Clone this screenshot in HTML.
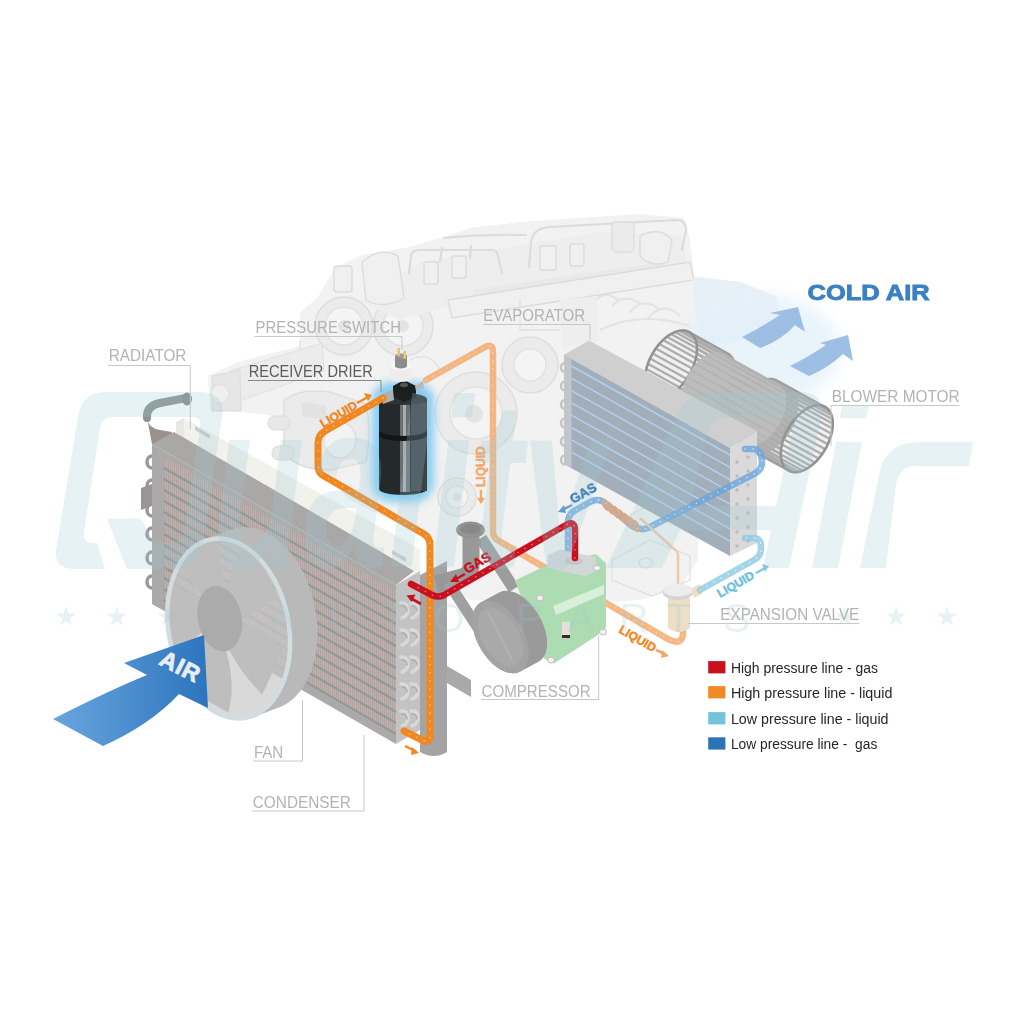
<!DOCTYPE html>
<html><head><meta charset="utf-8">
<style>
html,body{margin:0;padding:0;background:#fff;width:1024px;height:1024px;overflow:hidden}
svg{display:block}
text{font-family:"Liberation Sans",sans-serif}
</style></head>
<body>
<svg width="1024" height="1024" viewBox="0 0 1024 1024">
<defs>
<filter id="blur2" x="-20%" y="-20%" width="140%" height="140%"><feGaussianBlur stdDeviation="2"/></filter>
<filter id="blur4" x="-30%" y="-30%" width="160%" height="160%"><feGaussianBlur stdDeviation="4"/></filter>
<filter id="blur8" x="-50%" y="-50%" width="200%" height="200%"><feGaussianBlur stdDeviation="8"/></filter>
<linearGradient id="airg" x1="0" y1="0" x2="1" y2="0">
<stop offset="0" stop-color="#6aa6de"/><stop offset="1" stop-color="#2c74bd"/></linearGradient>
<mask id="qgap"><rect width="1024" height="1024" fill="#fff"/><path d="M96,540 L118,540 L128,572 L106,572 Z" fill="#000"/></mask>
<clipPath id="wmclip"><rect x="0" y="380" width="1024" height="190"/></clipPath>
<pattern id="fins" width="2" height="3" patternUnits="userSpaceOnUse">
<rect width="2" height="3" fill="#cbada5"/><rect width="1" height="3" fill="#b1a3a0"/></pattern>
</defs>
<g id="engine">
<path d="M300,313 L318,297 L335,268 L362,255 L405,248 L440,238 L470,228 L520,222 L593,217 L640,214 L684,218 L690,240 L694,276 L740,282 L776,296 L780,322 L740,340 L700,358 L700,470 L698,560 L680,588 L640,600 L570,604 L470,600 L440,580 L430,540 L350,500 L320,470 L300,440 L270,415 L240,412 L210,410 L208,376 L238,362 L300,346 Z" fill="#f2f2f2"/>
<g fill="#ebebeb" stroke="#dfdfdf" stroke-width="1.5">
<circle cx="344" cy="326" r="29"/>
<circle cx="403" cy="326" r="30"/>
<circle cx="476" cy="413" r="41"/>
<circle cx="457" cy="497" r="19"/>
<circle cx="530" cy="365" r="28"/>
</g>
<g fill="#f4f4f4" stroke="#e2e2e2" stroke-width="1.5">
<circle cx="344" cy="326" r="19"/>
<circle cx="403" cy="326" r="20"/>
<circle cx="476" cy="413" r="26"/>
<circle cx="457" cy="497" r="11"/>
<circle cx="530" cy="365" r="16"/>
</g>
<g fill="#e4e4e4">
<circle cx="344" cy="326" r="6"/><circle cx="403" cy="326" r="6"/><circle cx="474" cy="414" r="9"/><circle cx="457" cy="497" r="4"/>
</g>
<path d="M360,300 L420,262 L600,232 L680,236 L690,270 L600,280 L470,300 L400,320 Z" fill="#eeeeee"/>
<path d="M473,290 L664,262 L664,274 L473,303 Z" fill="#e9e9e9"/>
<g fill="none" stroke="#dcdcdc" stroke-width="2.2" stroke-linecap="round">
<path d="M409,273 L411,256 Q412,250 420,250 L492,250 Q497,250 498,256 L502,273"/>
<path d="M529,267 L531,242 Q533,228 550,227 L676,220 Q686,220 686,230 L682,250"/>
<path d="M444,238 Q480,234 526,235"/>
<path d="M440,262 L442,248"/><path d="M470,258 L471,246"/>
</g>
<g fill="none" stroke="#e3e3e3" stroke-width="2">
<path d="M596,300 Q606,290 618,300"/><path d="M612,306 Q624,292 640,304"/><path d="M630,312 Q644,296 660,310"/><path d="M648,318 Q664,300 680,316"/>
<path d="M600,330 Q640,310 690,326"/>
</g>
<rect x="612" y="222" width="22" height="30" rx="4" fill="#ebebeb" stroke="#dedede" stroke-width="1.5"/>
<g fill="#f0f0f0" stroke="#dcdcdc" stroke-width="1.4">
<rect x="334" y="266" width="18" height="26" rx="3"/>
<path d="M362,262 Q380,246 398,256 L404,298 Q384,310 366,300 Z"/>
<rect x="424" y="262" width="14" height="22" rx="2"/>
<rect x="452" y="256" width="14" height="22" rx="2"/>
<rect x="540" y="246" width="16" height="24" rx="2"/>
<rect x="570" y="244" width="14" height="22" rx="2"/>
<path d="M448,300 L690,262 L694,280 L452,318 Z"/>
<path d="M640,236 Q660,226 672,240 L668,262 Q650,268 640,256 Z"/>
</g>
<g fill="none" stroke="#e0e0e0" stroke-width="1.3">
<path d="M300,340 L300,360"/><path d="M410,360 Q430,350 440,370"/><path d="M520,300 L520,330 L560,330"/>
<path d="M600,380 Q640,372 670,386"/><path d="M612,560 L650,540 L690,556 L690,580 L652,596 L612,580 Z"/><ellipse cx="646" cy="563" rx="7" ry="5"/><path d="M620,520 L660,500"/><path d="M580,420 L640,410"/><path d="M600,460 L660,446"/>
</g>
<path d="M560,300 L596,296 L600,340 L562,348 Z" fill="#eeeeee"/>
</g>
<g fill="#e5f0f7" opacity="0.9">
<path d="M692,278 L740,282 L778,298 L780,322 L742,340 L700,346 Z"/>
</g>
<g id="mount">
<path d="M230,371 L322,343 L324,371 L231,404 Z" fill="#ececec" stroke="#e0e0e0" stroke-width="1"/>
<path d="M212,376 L240,370 L241,411 L212,411 Z" fill="#e6e6e6" stroke="#dcdcdc" stroke-width="1"/>
<ellipse cx="220" cy="394" rx="9" ry="9" fill="#efefef" stroke="#e0e0e0"/>
</g>
<path d="M284,400 Q300,388 330,392 L366,404 Q372,430 366,462 L330,470 Q296,470 284,452 Z" fill="#ebebeb" stroke="#dedede" stroke-width="1.5"/>
<path d="M302,402 L326,406 L326,420 L302,416 Z" fill="#e2e2e2"/>
<ellipse cx="340" cy="440" rx="16" ry="18" fill="#f3f3f3" stroke="#e0e0e0" stroke-width="1.5"/>
<g fill="#e8e8e8" stroke="#dcdcdc" stroke-width="1.2"><rect x="268" y="416" width="22" height="14" rx="7"/><rect x="272" y="446" width="22" height="14" rx="7"/></g>

<ellipse cx="760" cy="350" rx="80" ry="55" fill="#e4f1fa" opacity="0.8" filter="url(#blur8)"/>
<g id="radiator">
<path d="M147,418 Q146,406 160,403 L186,398" fill="none" stroke="#8c9293" stroke-width="8" stroke-linecap="round"/>
<ellipse cx="187" cy="399" rx="5" ry="6.5" fill="#858b8c"/>
<path d="M147,418 Q148,428 160,430 L172,432 L172,444 L152,444 Z" fill="#9c908d"/>
<path d="M176,422 L184,418 L420,549 L420,575 L412,579 L176,442 Z" fill="#f2f2ec"/>
<path d="M176,422 L184,418 L184,438 L176,442 Z" fill="#e9e9e2"/>
<path d="M195,426 L210,435 L210,439 L195,430 Z" fill="#c9cccc"/>
<path d="M392,550 L406,558 L406,562 L392,554 Z" fill="#c9cccc"/>
<g fill="none" stroke="#9b9898" stroke-width="3.5">
<path d="M152,456 a5,6 0 1,0 0,12"/><path d="M152,480 a5,6 0 1,0 0,12"/><path d="M152,504 a5,6 0 1,0 0,12"/>
<path d="M152,528 a5,6 0 1,0 0,12"/><path d="M152,552 a5,6 0 1,0 0,12"/><path d="M152,576 a5,6 0 1,0 0,12"/>
</g>
<path d="M141,488 L152,484 L152,506 L141,510 Z" fill="#9a9494"/>
<path d="M420,575 L447,561 L447,752 Q434,760 420,752 Z" fill="#a4a4a4"/>
<path d="M447,666 L471,680 L471,697 L447,683 Z" fill="#a9a9a9"/>
</g>
<g id="condenser">
<path d="M152,444 L174,432 L414,571 L396,585 Z" fill="#aaa7a7"/>
<path d="M152,444 L396,585 L396,744 L152,604 Z" fill="#aba9a9"/>
<path d="M164,457 L396,591 L396,736 L164,602 Z" fill="url(#fins)"/>
<g stroke="#909a9b" stroke-width="2.3"><line x1="164" y1="468" x2="396" y2="602"/>
<line x1="164" y1="479" x2="396" y2="613"/>
<line x1="164" y1="490" x2="396" y2="624"/>
<line x1="164" y1="501" x2="396" y2="635"/>
<line x1="164" y1="512" x2="396" y2="646"/>
<line x1="164" y1="523" x2="396" y2="657"/>
<line x1="164" y1="534" x2="396" y2="668"/>
<line x1="164" y1="545" x2="396" y2="679"/>
<line x1="164" y1="556" x2="396" y2="690"/>
<line x1="164" y1="567" x2="396" y2="701"/>
<line x1="164" y1="578" x2="396" y2="712"/>
<line x1="164" y1="589" x2="396" y2="723"/>
<line x1="164" y1="600" x2="396" y2="734"/></g>
<path d="M396,585 L420,571 L420,730 L396,744 Z" fill="#c3c3c3"/>
<g fill="none" stroke-width="3.5" stroke-linecap="round">
<path d="M401,603 q7,-1 7,7 q0,6 -6,8" stroke="#d9d9d9"/><path d="M402,606 q5,0 5,5" stroke="#aeaeae" stroke-width="1.5"/>
<path d="M411,603 q7,-1 7,7 q0,6 -6,8" stroke="#d9d9d9"/><path d="M412,606 q5,0 5,5" stroke="#aeaeae" stroke-width="1.5"/>
<path d="M401,630 q7,-1 7,7 q0,6 -6,8" stroke="#d9d9d9"/><path d="M402,633 q5,0 5,5" stroke="#aeaeae" stroke-width="1.5"/>
<path d="M411,630 q7,-1 7,7 q0,6 -6,8" stroke="#d9d9d9"/><path d="M412,633 q5,0 5,5" stroke="#aeaeae" stroke-width="1.5"/>
<path d="M401,657 q7,-1 7,7 q0,6 -6,8" stroke="#d9d9d9"/><path d="M402,660 q5,0 5,5" stroke="#aeaeae" stroke-width="1.5"/>
<path d="M411,657 q7,-1 7,7 q0,6 -6,8" stroke="#d9d9d9"/><path d="M412,660 q5,0 5,5" stroke="#aeaeae" stroke-width="1.5"/>
<path d="M401,684 q7,-1 7,7 q0,6 -6,8" stroke="#d9d9d9"/><path d="M402,687 q5,0 5,5" stroke="#aeaeae" stroke-width="1.5"/>
<path d="M411,684 q7,-1 7,7 q0,6 -6,8" stroke="#d9d9d9"/><path d="M412,687 q5,0 5,5" stroke="#aeaeae" stroke-width="1.5"/>
<path d="M401,711 q7,-1 7,7 q0,6 -6,8" stroke="#d9d9d9"/><path d="M402,714 q5,0 5,5" stroke="#aeaeae" stroke-width="1.5"/>
<path d="M411,711 q7,-1 7,7 q0,6 -6,8" stroke="#d9d9d9"/><path d="M412,714 q5,0 5,5" stroke="#aeaeae" stroke-width="1.5"/>
</g>
</g>
<mask id="fanmask"><rect width="1024" height="1024" fill="#fff"/><path d="M289.2,642.7 L288.9,650.2 L288.3,657.6 L287.1,664.8 L285.5,671.7 L283.5,678.3 L281.1,684.5 L278.2,690.2 L275.0,695.5 L271.5,700.3 L267.6,704.6 L263.4,708.2 L258.9,711.3 L254.3,713.7 L249.4,715.5 L244.4,716.6 L239.2,717.0 L234.0,716.8 L228.7,715.9 L223.4,714.3 L218.2,712.1 L213.0,709.3 L208.0,705.8 L203.1,701.7 L198.5,697.1 L194.0,692.0 L189.8,686.4 L185.9,680.3 L182.4,673.8 L179.2,667.0 L176.3,659.9 L173.9,652.6 L171.9,645.1 L170.3,637.4 L169.1,629.7 L168.5,622.0 L168.2,614.3 L168.5,606.8 L169.1,599.4 L170.3,592.2 L171.9,585.3 L173.9,578.7 L176.3,572.5 L179.2,566.8 L182.4,561.5 L185.9,556.7 L189.8,552.4 L194.0,548.8 L198.5,545.7 L203.1,543.3 L208.0,541.5 L213.0,540.4 L218.2,540.0 L223.4,540.2 L228.7,541.1 L234.0,542.7 L239.2,544.9 L244.4,547.7 L249.4,551.2 L254.3,555.3 L258.9,559.9 L263.4,565.0 L267.6,570.6 L271.5,576.7 L275.0,583.2 L278.2,590.0 L281.1,597.1 L283.5,604.4 L285.5,611.9 L287.1,619.6 L288.3,627.3 L288.9,635.0 Z" fill="#000"/></mask>
<path d="M166.3,613.9 L166.5,606.1 L167.2,598.4 L168.4,591.0 L170.1,583.9 L172.2,577.1 L174.7,570.7 L177.6,564.8 L180.9,559.3 L184.6,554.4 L188.6,550.0 L192.9,546.2 L197.5,543.1 L202.3,540.6 L228.6,530.6 L233.7,528.8 L238.8,527.6 L244.2,527.1 L249.6,527.4 L255.0,528.3 L260.4,529.9 L265.8,532.2 L271.1,535.2 L276.3,538.8 L281.4,542.9 L286.2,547.7 L290.8,553.0 L295.1,558.8 L299.1,565.1 L302.8,571.7 L306.1,578.8 L309.0,586.1 L311.6,593.6 L313.6,601.4 L315.3,609.3 L316.4,617.2 L317.2,625.2 L317.4,633.1 L317.2,640.9 L316.4,648.6 L315.3,656.0 L313.6,663.1 L311.6,669.9 L309.0,676.3 L306.1,682.2 L302.8,687.7 L299.1,692.6 L295.1,697.0 L290.8,700.8 L286.2,703.9 L281.4,706.4 L255.1,716.4 L250.0,718.2 L244.8,719.4 L239.5,719.9 L234.1,719.6 L228.7,718.7 L223.3,717.1 L217.9,714.8 L212.6,711.8 L207.4,708.2 L202.3,704.1 L197.5,699.3 L192.9,694.0 L188.6,688.2 L184.6,681.9 L180.9,675.3 L177.6,668.2 L174.7,660.9 L172.2,653.4 L170.1,645.6 L168.4,637.7 L167.2,629.8 L166.5,621.8 Z" fill="#b9b9b9" mask="url(#fanmask)"/>
<path d="M289.2,642.7 L288.9,650.2 L288.3,657.6 L287.1,664.8 L285.5,671.7 L283.5,678.3 L281.1,684.5 L278.2,690.2 L275.0,695.5 L271.5,700.3 L267.6,704.6 L263.4,708.2 L258.9,711.3 L254.3,713.7 L249.4,715.5 L244.4,716.6 L239.2,717.0 L234.0,716.8 L228.7,715.9 L223.4,714.3 L218.2,712.1 L213.0,709.3 L208.0,705.8 L203.1,701.7 L198.5,697.1 L194.0,692.0 L189.8,686.4 L185.9,680.3 L182.4,673.8 L179.2,667.0 L176.3,659.9 L173.9,652.6 L171.9,645.1 L170.3,637.4 L169.1,629.7 L168.5,622.0 L168.2,614.3 L168.5,606.8 L169.1,599.4 L170.3,592.2 L171.9,585.3 L173.9,578.7 L176.3,572.5 L179.2,566.8 L182.4,561.5 L185.9,556.7 L189.8,552.4 L194.0,548.8 L198.5,545.7 L203.1,543.3 L208.0,541.5 L213.0,540.4 L218.2,540.0 L223.4,540.2 L228.7,541.1 L234.0,542.7 L239.2,544.9 L244.4,547.7 L249.4,551.2 L254.3,555.3 L258.9,559.9 L263.4,565.0 L267.6,570.6 L271.5,576.7 L275.0,583.2 L278.2,590.0 L281.1,597.1 L283.5,604.4 L285.5,611.9 L287.1,619.6 L288.3,627.3 L288.9,635.0 Z" fill="#c9c9c9" opacity="0.7"/>
<clipPath id="fanclip"><path d="M289.2,642.7 L288.9,650.2 L288.3,657.6 L287.1,664.8 L285.5,671.7 L283.5,678.3 L281.1,684.5 L278.2,690.2 L275.0,695.5 L271.5,700.3 L267.6,704.6 L263.4,708.2 L258.9,711.3 L254.3,713.7 L249.4,715.5 L244.4,716.6 L239.2,717.0 L234.0,716.8 L228.7,715.9 L223.4,714.3 L218.2,712.1 L213.0,709.3 L208.0,705.8 L203.1,701.7 L198.5,697.1 L194.0,692.0 L189.8,686.4 L185.9,680.3 L182.4,673.8 L179.2,667.0 L176.3,659.9 L173.9,652.6 L171.9,645.1 L170.3,637.4 L169.1,629.7 L168.5,622.0 L168.2,614.3 L168.5,606.8 L169.1,599.4 L170.3,592.2 L171.9,585.3 L173.9,578.7 L176.3,572.5 L179.2,566.8 L182.4,561.5 L185.9,556.7 L189.8,552.4 L194.0,548.8 L198.5,545.7 L203.1,543.3 L208.0,541.5 L213.0,540.4 L218.2,540.0 L223.4,540.2 L228.7,541.1 L234.0,542.7 L239.2,544.9 L244.4,547.7 L249.4,551.2 L254.3,555.3 L258.9,559.9 L263.4,565.0 L267.6,570.6 L271.5,576.7 L275.0,583.2 L278.2,590.0 L281.1,597.1 L283.5,604.4 L285.5,611.9 L287.1,619.6 L288.3,627.3 L288.9,635.0 Z"/></clipPath>
<g clip-path="url(#fanclip)"><g transform="matrix(0.64,0.15,0,0.925,219.7,618.5)"><g fill="#bebebe"><path d="M-18,-28 Q-44,-60 -40,-92 L22,-95 Q26,-60 18,-30 Z" transform="rotate(-20)"/><path d="M-18,-28 Q-44,-60 -40,-92 L22,-95 Q26,-60 18,-30 Z" transform="rotate(52)"/><path d="M-18,-28 Q-44,-60 -40,-92 L22,-95 Q26,-60 18,-30 Z" transform="rotate(124)"/><path d="M-18,-28 Q-44,-60 -40,-92 L22,-95 Q26,-60 18,-30 Z" transform="rotate(196)"/><path d="M-18,-28 Q-44,-60 -40,-92 L22,-95 Q26,-60 18,-30 Z" transform="rotate(268)"/></g><circle r="35" fill="#ababab"/></g></g>
<path d="M290.1,642.9 L289.9,650.6 L289.2,658.1 L288.0,665.4 L286.4,672.4 L284.4,679.1 L281.9,685.4 L279.0,691.2 L275.8,696.6 L272.1,701.5 L268.2,705.8 L263.9,709.5 L259.4,712.6 L254.7,715.1 L249.7,716.9 L244.6,718.0 L239.4,718.5 L234.1,718.2 L228.7,717.3 L223.3,715.7 L218.0,713.5 L212.8,710.5 L207.7,707.0 L202.7,702.9 L198.0,698.2 L193.5,693.0 L189.2,687.3 L185.3,681.1 L181.6,674.5 L178.4,667.6 L175.5,660.4 L173.0,653.0 L171.0,645.3 L169.4,637.6 L168.2,629.7 L167.5,621.9 L167.3,614.1 L167.5,606.4 L168.2,598.9 L169.4,591.6 L171.0,584.6 L173.0,577.9 L175.5,571.6 L178.4,565.8 L181.6,560.4 L185.3,555.5 L189.2,551.2 L193.5,547.5 L198.0,544.4 L202.7,541.9 L207.7,540.1 L212.8,539.0 L218.0,538.5 L223.3,538.8 L228.7,539.7 L234.1,541.3 L239.4,543.5 L244.6,546.5 L249.7,550.0 L254.7,554.1 L259.4,558.8 L263.9,564.0 L268.2,569.7 L272.1,575.9 L275.8,582.5 L279.0,589.4 L281.9,596.6 L284.4,604.0 L286.4,611.7 L288.0,619.4 L289.2,627.3 L289.9,635.1 Z" fill="none" stroke="#d3dde0" stroke-width="4.5"/>
<g id="blower">
<clipPath id="bcl0"><path d="M645.0,379.0 L645.1,376.3 L645.4,373.6 L645.9,370.7 L646.6,367.8 L647.5,364.9 L648.5,362.0 L649.7,359.1 L651.1,356.2 L652.6,353.4 L654.3,350.7 L656.1,348.0 L658.0,345.5 L660.0,343.1 L662.1,340.9 L664.3,338.9 L666.5,337.1 L668.7,335.4 L671.0,334.0 L673.3,332.8 L675.5,331.9 L677.7,331.1 L679.9,330.7 L682.0,330.5 L684.0,330.5 L685.9,330.8 L687.7,331.4 L689.4,332.2 L727.9,353.4 L729.5,354.4 L730.8,355.7 L732.0,357.2 L733.1,358.9 L734.0,360.9 L734.6,362.9 L735.1,365.2 L735.4,367.6 L735.5,370.2 L735.4,372.9 L735.1,375.6 L734.6,378.5 L734.0,381.4 L733.1,384.3 L732.0,387.2 L730.8,390.1 L729.5,393.0 L727.9,395.8 L726.2,398.6 L724.5,401.2 L722.5,403.7 L720.5,406.1 L718.4,408.3 L716.3,410.3 L714.1,412.1 L711.8,413.8 L709.5,415.2 L707.3,416.4 L705.0,417.4 L702.8,418.1 L700.7,418.5 L698.6,418.7 L696.5,418.7 L694.6,418.4 L692.8,417.8 L691.2,417.0 L652.6,395.8 L651.1,394.8 L649.7,393.5 L648.5,392.0 L647.5,390.3 L646.6,388.4 L645.9,386.2 L645.4,384.0 L645.1,381.6 Z"/></clipPath>
<path d="M645.0,379.0 L645.1,376.3 L645.4,373.6 L645.9,370.7 L646.6,367.8 L647.5,364.9 L648.5,362.0 L649.7,359.1 L651.1,356.2 L652.6,353.4 L654.3,350.7 L656.1,348.0 L658.0,345.5 L660.0,343.1 L662.1,340.9 L664.3,338.9 L666.5,337.1 L668.7,335.4 L671.0,334.0 L673.3,332.8 L675.5,331.9 L677.7,331.1 L679.9,330.7 L682.0,330.5 L684.0,330.5 L685.9,330.8 L687.7,331.4 L689.4,332.2 L727.9,353.4 L729.5,354.4 L730.8,355.7 L732.0,357.2 L733.1,358.9 L734.0,360.9 L734.6,362.9 L735.1,365.2 L735.4,367.6 L735.5,370.2 L735.4,372.9 L735.1,375.6 L734.6,378.5 L734.0,381.4 L733.1,384.3 L732.0,387.2 L730.8,390.1 L729.5,393.0 L727.9,395.8 L726.2,398.6 L724.5,401.2 L722.5,403.7 L720.5,406.1 L718.4,408.3 L716.3,410.3 L714.1,412.1 L711.8,413.8 L709.5,415.2 L707.3,416.4 L705.0,417.4 L702.8,418.1 L700.7,418.5 L698.6,418.7 L696.5,418.7 L694.6,418.4 L692.8,417.8 L691.2,417.0 L652.6,395.8 L651.1,394.8 L649.7,393.5 L648.5,392.0 L647.5,390.3 L646.6,388.4 L645.9,386.2 L645.4,384.0 L645.1,381.6 Z" fill="#f0f0f0"/>
<g clip-path="url(#bcl0)" stroke="#adadad" stroke-width="2.3">
<line x1="645.0" y1="379.0" x2="683.6" y2="400.2"/>
<line x1="645.3" y1="383.5" x2="683.9" y2="404.7"/>
<line x1="646.3" y1="387.5" x2="684.8" y2="408.7"/>
<line x1="647.9" y1="391.0" x2="686.4" y2="412.2"/>
<line x1="650.0" y1="393.8" x2="688.5" y2="415.0"/>
<line x1="652.6" y1="395.8" x2="691.2" y2="417.0"/>
<line x1="655.7" y1="397.1" x2="694.3" y2="418.3"/>
<line x1="659.2" y1="397.5" x2="697.7" y2="418.7"/>
<line x1="663.0" y1="397.2" x2="701.5" y2="418.4"/>
<line x1="666.9" y1="396.0" x2="705.5" y2="417.2"/>
<line x1="671.0" y1="394.0" x2="709.5" y2="415.2"/>
<line x1="675.1" y1="391.3" x2="713.6" y2="412.5"/>
<line x1="679.0" y1="387.9" x2="717.6" y2="409.1"/>
<line x1="682.8" y1="383.9" x2="721.3" y2="405.1"/>
<line x1="686.3" y1="379.5" x2="724.8" y2="400.7"/>
<line x1="689.4" y1="374.6" x2="727.9" y2="395.8"/>
<line x1="692.0" y1="369.5" x2="730.6" y2="390.7"/>
<line x1="694.1" y1="364.3" x2="732.7" y2="385.5"/>
<line x1="695.7" y1="359.0" x2="734.3" y2="380.2"/>
<line x1="696.7" y1="353.9" x2="735.2" y2="375.1"/>
<line x1="697.0" y1="349.0" x2="735.5" y2="370.2"/>
<line x1="696.7" y1="344.5" x2="735.2" y2="365.7"/>
<line x1="695.7" y1="340.5" x2="734.3" y2="361.7"/>
<line x1="694.1" y1="337.0" x2="732.7" y2="358.2"/>
<line x1="692.0" y1="334.2" x2="730.6" y2="355.4"/>
<line x1="689.4" y1="332.2" x2="727.9" y2="353.4"/>
<line x1="686.3" y1="330.9" x2="724.8" y2="352.1"/>
<line x1="682.8" y1="330.5" x2="721.3" y2="351.7"/>
<line x1="679.0" y1="330.8" x2="717.6" y2="352.0"/>
<line x1="675.1" y1="332.0" x2="713.6" y2="353.2"/>
<line x1="671.0" y1="334.0" x2="709.5" y2="355.2"/>
<line x1="666.9" y1="336.7" x2="705.5" y2="357.9"/>
<line x1="663.0" y1="340.1" x2="701.5" y2="361.3"/>
<line x1="659.2" y1="344.1" x2="697.7" y2="365.3"/>
<line x1="655.7" y1="348.5" x2="694.3" y2="369.8"/>
<line x1="652.6" y1="353.4" x2="691.2" y2="374.6"/>
<line x1="650.0" y1="358.5" x2="688.5" y2="379.7"/>
<line x1="647.9" y1="363.7" x2="686.4" y2="385.0"/>
<line x1="646.3" y1="369.0" x2="684.8" y2="390.2"/>
<line x1="645.3" y1="374.1" x2="683.9" y2="395.3"/>
</g>
<path d="M645.0,379.0 L645.1,376.3 L645.4,373.6 L645.9,370.7 L646.6,367.8 L647.5,364.9 L648.5,362.0 L649.7,359.1 L651.1,356.2 L652.6,353.4 L654.3,350.7 L656.1,348.0 L658.0,345.5 L660.0,343.1 L662.1,340.9 L664.3,338.9 L666.5,337.1 L668.7,335.4 L671.0,334.0 L673.3,332.8 L675.5,331.9 L677.7,331.1 L679.9,330.7 L682.0,330.5 L684.0,330.5 L685.9,330.8 L687.7,331.4 L689.4,332.2 L727.9,353.4 L729.5,354.4 L730.8,355.7 L732.0,357.2 L733.1,358.9 L734.0,360.9 L734.6,362.9 L735.1,365.2 L735.4,367.6 L735.5,370.2 L735.4,372.9 L735.1,375.6 L734.6,378.5 L734.0,381.4 L733.1,384.3 L732.0,387.2 L730.8,390.1 L729.5,393.0 L727.9,395.8 L726.2,398.6 L724.5,401.2 L722.5,403.7 L720.5,406.1 L718.4,408.3 L716.3,410.3 L714.1,412.1 L711.8,413.8 L709.5,415.2 L707.3,416.4 L705.0,417.4 L702.8,418.1 L700.7,418.5 L698.6,418.7 L696.5,418.7 L694.6,418.4 L692.8,417.8 L691.2,417.0 L652.6,395.8 L651.1,394.8 L649.7,393.5 L648.5,392.0 L647.5,390.3 L646.6,388.4 L645.9,386.2 L645.4,384.0 L645.1,381.6 Z" fill="none" stroke="#9d9d9d" stroke-width="2"/>
<path d="M645.0,379.0 L645.1,381.6 L645.4,384.0 L645.9,386.3 L646.6,388.4 L647.5,390.3 L648.5,392.0 L649.7,393.5 L651.1,394.8 L652.6,395.8 L654.3,396.6 L656.1,397.2 L658.0,397.5 L660.0,397.5 L662.1,397.3 L664.3,396.9 L666.5,396.1 L668.7,395.2 L671.0,394.0 L673.3,392.6 L675.5,390.9 L677.7,389.1 L679.9,387.1 L682.0,384.8 L684.0,382.5 L685.9,380.0 L687.7,377.3 L689.4,374.6 L690.9,371.8 L692.3,368.9 L693.5,366.0 L694.5,363.1 L695.4,360.2 L696.1,357.3 L696.6,354.4 L696.9,351.7 L697.0,349.0 L696.9,346.4 L696.6,344.0 L696.1,341.7 L695.4,339.6 L694.5,337.7 L693.5,336.0 L692.3,334.5 L690.9,333.2 L689.4,332.2 L687.7,331.4 L685.9,330.8 L684.0,330.5 L682.0,330.5 L679.9,330.7 L677.7,331.1 L675.5,331.9 L673.3,332.8 L671.0,334.0 L668.7,335.4 L666.5,337.1 L664.3,338.9 L662.1,340.9 L660.0,343.2 L658.0,345.5 L656.1,348.0 L654.3,350.7 L652.6,353.4 L651.1,356.2 L649.7,359.1 L648.5,362.0 L647.5,364.9 L646.6,367.8 L645.9,370.7 L645.4,373.6 L645.1,376.3 Z" fill="none" stroke="#939393" stroke-width="2.5"/>
<clipPath id="bcl100"><path d="M732.6,427.2 L732.7,424.5 L733.0,421.8 L733.5,418.9 L734.2,416.0 L735.0,413.1 L736.1,410.2 L737.3,407.3 L738.7,404.4 L740.2,401.6 L741.9,398.9 L743.7,396.2 L745.6,393.7 L747.6,391.4 L749.7,389.1 L751.9,387.1 L754.1,385.3 L756.3,383.6 L758.6,382.2 L760.9,381.0 L763.1,380.1 L765.3,379.3 L767.5,378.9 L769.6,378.7 L771.6,378.7 L773.5,379.0 L775.3,379.6 L777.0,380.4 L825.1,406.9 L826.7,407.9 L828.1,409.2 L829.3,410.7 L830.3,412.4 L831.2,414.4 L831.9,416.5 L832.4,418.7 L832.7,421.1 L832.8,423.7 L832.7,426.4 L832.4,429.1 L831.9,432.0 L831.2,434.9 L830.3,437.8 L829.3,440.7 L828.1,443.6 L826.7,446.5 L825.1,449.3 L823.5,452.1 L821.7,454.7 L819.8,457.2 L817.8,459.6 L815.7,461.8 L813.5,463.8 L811.3,465.6 L809.0,467.3 L806.8,468.7 L804.5,469.9 L802.3,470.9 L800.1,471.6 L797.9,472.0 L795.8,472.2 L793.8,472.2 L791.9,471.9 L790.1,471.3 L788.4,470.5 L740.2,444.0 L738.7,443.0 L737.3,441.7 L736.1,440.2 L735.0,438.5 L734.2,436.6 L733.5,434.4 L733.0,432.2 L732.7,429.8 Z"/></clipPath>
<path d="M732.6,427.2 L732.7,424.5 L733.0,421.8 L733.5,418.9 L734.2,416.0 L735.0,413.1 L736.1,410.2 L737.3,407.3 L738.7,404.4 L740.2,401.6 L741.9,398.9 L743.7,396.2 L745.6,393.7 L747.6,391.4 L749.7,389.1 L751.9,387.1 L754.1,385.3 L756.3,383.6 L758.6,382.2 L760.9,381.0 L763.1,380.1 L765.3,379.3 L767.5,378.9 L769.6,378.7 L771.6,378.7 L773.5,379.0 L775.3,379.6 L777.0,380.4 L825.1,406.9 L826.7,407.9 L828.1,409.2 L829.3,410.7 L830.3,412.4 L831.2,414.4 L831.9,416.5 L832.4,418.7 L832.7,421.1 L832.8,423.7 L832.7,426.4 L832.4,429.1 L831.9,432.0 L831.2,434.9 L830.3,437.8 L829.3,440.7 L828.1,443.6 L826.7,446.5 L825.1,449.3 L823.5,452.1 L821.7,454.7 L819.8,457.2 L817.8,459.6 L815.7,461.8 L813.5,463.8 L811.3,465.6 L809.0,467.3 L806.8,468.7 L804.5,469.9 L802.3,470.9 L800.1,471.6 L797.9,472.0 L795.8,472.2 L793.8,472.2 L791.9,471.9 L790.1,471.3 L788.4,470.5 L740.2,444.0 L738.7,443.0 L737.3,441.7 L736.1,440.2 L735.0,438.5 L734.2,436.6 L733.5,434.4 L733.0,432.2 L732.7,429.8 Z" fill="#f0f0f0"/>
<path d="M732.6,427.2 L732.7,424.5 L733.0,421.8 L733.5,418.9 L734.2,416.0 L735.0,413.1 L736.1,410.2 L737.3,407.3 L738.7,404.4 L740.2,401.6 L741.9,398.9 L743.7,396.2 L745.6,393.7 L747.6,391.4 L749.7,389.1 L751.9,387.1 L754.1,385.3 L756.3,383.6 L758.6,382.2 L760.9,381.0 L763.1,380.1 L765.3,379.3 L767.5,378.9 L769.6,378.7 L771.6,378.7 L773.5,379.0 L775.3,379.6 L777.0,380.4 L791.0,388.1 L792.5,389.1 L793.9,390.4 L795.1,391.9 L796.2,393.6 L797.0,395.6 L797.7,397.7 L798.2,399.9 L798.5,402.4 L798.6,404.9 L798.5,407.6 L798.2,410.4 L797.7,413.2 L797.0,416.1 L796.2,419.0 L795.1,421.9 L793.9,424.8 L792.5,427.7 L791.0,430.5 L789.3,433.2 L787.5,435.9 L785.6,438.4 L783.6,440.8 L781.5,443.0 L779.3,445.0 L777.1,446.9 L774.9,448.5 L772.6,449.9 L770.4,451.1 L768.1,452.1 L765.9,452.8 L763.7,453.2 L761.6,453.4 L759.6,453.4 L757.7,453.1 L755.9,452.5 L754.2,451.7 L740.2,444.0 L738.7,443.0 L737.3,441.7 L736.1,440.2 L735.0,438.5 L734.2,436.6 L733.5,434.4 L733.0,432.2 L732.7,429.8 Z" fill="#b4b4b4"/>
<g clip-path="url(#bcl100)" stroke="#adadad" stroke-width="2.3">
<line x1="732.6" y1="427.2" x2="780.8" y2="453.7"/>
<line x1="732.9" y1="431.7" x2="781.1" y2="458.2"/>
<line x1="733.9" y1="435.7" x2="782.1" y2="462.2"/>
<line x1="735.5" y1="439.2" x2="783.6" y2="465.7"/>
<line x1="737.6" y1="442.0" x2="785.8" y2="468.5"/>
<line x1="740.2" y1="444.0" x2="788.4" y2="470.5"/>
<line x1="743.3" y1="445.3" x2="791.5" y2="471.8"/>
<line x1="746.8" y1="445.7" x2="795.0" y2="472.3"/>
<line x1="750.6" y1="445.4" x2="798.8" y2="471.9"/>
<line x1="754.5" y1="444.2" x2="802.7" y2="470.7"/>
<line x1="758.6" y1="442.2" x2="806.8" y2="468.7"/>
<line x1="762.7" y1="439.5" x2="810.8" y2="466.0"/>
<line x1="766.6" y1="436.1" x2="814.8" y2="462.6"/>
<line x1="770.4" y1="432.1" x2="818.6" y2="458.6"/>
<line x1="773.9" y1="427.7" x2="822.1" y2="454.2"/>
<line x1="777.0" y1="422.8" x2="825.2" y2="449.3"/>
<line x1="779.6" y1="417.7" x2="827.8" y2="444.2"/>
<line x1="781.7" y1="412.5" x2="829.9" y2="439.0"/>
<line x1="783.3" y1="407.2" x2="831.5" y2="433.7"/>
<line x1="784.3" y1="402.1" x2="832.4" y2="428.6"/>
<line x1="784.6" y1="397.2" x2="832.8" y2="423.7"/>
<line x1="784.3" y1="392.7" x2="832.4" y2="419.2"/>
<line x1="783.3" y1="388.7" x2="831.5" y2="415.2"/>
<line x1="781.7" y1="385.2" x2="829.9" y2="411.7"/>
<line x1="779.6" y1="382.4" x2="827.8" y2="408.9"/>
<line x1="777.0" y1="380.4" x2="825.2" y2="406.9"/>
<line x1="773.9" y1="379.1" x2="822.1" y2="405.6"/>
<line x1="770.4" y1="378.7" x2="818.6" y2="405.2"/>
<line x1="766.6" y1="379.0" x2="814.8" y2="405.5"/>
<line x1="762.7" y1="380.2" x2="810.8" y2="406.7"/>
<line x1="758.6" y1="382.2" x2="806.8" y2="408.7"/>
<line x1="754.5" y1="384.9" x2="802.7" y2="411.4"/>
<line x1="750.6" y1="388.3" x2="798.8" y2="414.8"/>
<line x1="746.8" y1="392.3" x2="795.0" y2="418.8"/>
<line x1="743.3" y1="396.7" x2="791.5" y2="423.3"/>
<line x1="740.2" y1="401.6" x2="788.4" y2="428.1"/>
<line x1="737.6" y1="406.7" x2="785.8" y2="433.2"/>
<line x1="735.5" y1="411.9" x2="783.6" y2="438.5"/>
<line x1="733.9" y1="417.2" x2="782.1" y2="443.7"/>
<line x1="732.9" y1="422.3" x2="781.1" y2="448.8"/>
</g>
<path d="M732.6,427.2 L732.7,424.5 L733.0,421.8 L733.5,418.9 L734.2,416.0 L735.0,413.1 L736.1,410.2 L737.3,407.3 L738.7,404.4 L740.2,401.6 L741.9,398.9 L743.7,396.2 L745.6,393.7 L747.6,391.4 L749.7,389.1 L751.9,387.1 L754.1,385.3 L756.3,383.6 L758.6,382.2 L760.9,381.0 L763.1,380.1 L765.3,379.3 L767.5,378.9 L769.6,378.7 L771.6,378.7 L773.5,379.0 L775.3,379.6 L777.0,380.4 L825.1,406.9 L826.7,407.9 L828.1,409.2 L829.3,410.7 L830.3,412.4 L831.2,414.4 L831.9,416.5 L832.4,418.7 L832.7,421.1 L832.8,423.7 L832.7,426.4 L832.4,429.1 L831.9,432.0 L831.2,434.9 L830.3,437.8 L829.3,440.7 L828.1,443.6 L826.7,446.5 L825.1,449.3 L823.5,452.1 L821.7,454.7 L819.8,457.2 L817.8,459.6 L815.7,461.8 L813.5,463.8 L811.3,465.6 L809.0,467.3 L806.8,468.7 L804.5,469.9 L802.3,470.9 L800.1,471.6 L797.9,472.0 L795.8,472.2 L793.8,472.2 L791.9,471.9 L790.1,471.3 L788.4,470.5 L740.2,444.0 L738.7,443.0 L737.3,441.7 L736.1,440.2 L735.0,438.5 L734.2,436.6 L733.5,434.4 L733.0,432.2 L732.7,429.8 Z" fill="none" stroke="#9d9d9d" stroke-width="2"/>
<path d="M780.8,453.7 L780.9,456.3 L781.2,458.7 L781.7,461.0 L782.4,463.1 L783.2,465.0 L784.3,466.7 L785.5,468.2 L786.9,469.5 L788.4,470.5 L790.1,471.3 L791.9,471.9 L793.8,472.2 L795.8,472.2 L797.9,472.0 L800.1,471.6 L802.3,470.9 L804.5,469.9 L806.8,468.7 L809.0,467.3 L811.3,465.6 L813.5,463.8 L815.7,461.8 L817.8,459.6 L819.8,457.2 L821.7,454.7 L823.5,452.0 L825.2,449.3 L826.7,446.5 L828.1,443.6 L829.3,440.7 L830.3,437.8 L831.2,434.9 L831.9,432.0 L832.4,429.1 L832.7,426.4 L832.8,423.7 L832.7,421.2 L832.4,418.7 L831.9,416.5 L831.2,414.4 L830.3,412.4 L829.3,410.7 L828.1,409.2 L826.7,407.9 L825.2,406.9 L823.5,406.1 L821.7,405.5 L819.8,405.2 L817.8,405.2 L815.7,405.4 L813.5,405.8 L811.3,406.6 L809.0,407.5 L806.8,408.7 L804.5,410.1 L802.3,411.8 L800.1,413.6 L797.9,415.6 L795.8,417.9 L793.8,420.2 L791.9,422.7 L790.1,425.4 L788.4,428.1 L786.9,430.9 L785.5,433.8 L784.3,436.7 L783.2,439.6 L782.4,442.5 L781.7,445.4 L781.2,448.3 L780.9,451.0 Z" fill="none" stroke="#939393" stroke-width="2.5"/>
<clipPath id="bcl40"><path d="M681.8,397.3 L681.9,394.8 L682.2,392.2 L682.6,389.6 L683.2,386.9 L684.1,384.1 L685.0,381.4 L686.2,378.7 L687.5,376.0 L688.9,373.4 L690.5,370.8 L692.1,368.4 L693.9,366.0 L695.8,363.8 L697.8,361.8 L699.8,359.9 L701.8,358.1 L703.9,356.6 L706.0,355.3 L708.1,354.2 L710.2,353.3 L712.3,352.6 L714.3,352.2 L716.3,352.0 L718.2,352.0 L720.0,352.3 L721.6,352.8 L723.2,353.6 L779.2,384.4 L780.7,385.4 L782.0,386.6 L783.1,388.0 L784.1,389.6 L784.9,391.4 L785.5,393.4 L786.0,395.5 L786.3,397.7 L786.4,400.1 L786.3,402.6 L786.0,405.2 L785.5,407.9 L784.9,410.6 L784.1,413.3 L783.1,416.0 L782.0,418.7 L780.7,421.4 L779.2,424.0 L777.7,426.6 L776.0,429.0 L774.2,431.4 L772.4,433.6 L770.4,435.6 L768.4,437.6 L766.3,439.3 L764.2,440.8 L762.1,442.1 L760.0,443.2 L757.9,444.1 L755.8,444.8 L753.8,445.2 L751.9,445.4 L750.0,445.4 L748.2,445.1 L746.5,444.6 L745.0,443.8 L688.9,413.0 L687.5,412.0 L686.2,410.8 L685.0,409.4 L684.1,407.8 L683.2,406.0 L682.6,404.1 L682.2,401.9 L681.9,399.7 Z"/></clipPath>
<path d="M681.8,397.3 L681.9,394.8 L682.2,392.2 L682.6,389.6 L683.2,386.9 L684.1,384.1 L685.0,381.4 L686.2,378.7 L687.5,376.0 L688.9,373.4 L690.5,370.8 L692.1,368.4 L693.9,366.0 L695.8,363.8 L697.8,361.8 L699.8,359.9 L701.8,358.1 L703.9,356.6 L706.0,355.3 L708.1,354.2 L710.2,353.3 L712.3,352.6 L714.3,352.2 L716.3,352.0 L718.2,352.0 L720.0,352.3 L721.6,352.8 L723.2,353.6 L779.2,384.4 L780.7,385.4 L782.0,386.6 L783.1,388.0 L784.1,389.6 L784.9,391.4 L785.5,393.4 L786.0,395.5 L786.3,397.7 L786.4,400.1 L786.3,402.6 L786.0,405.2 L785.5,407.9 L784.9,410.6 L784.1,413.3 L783.1,416.0 L782.0,418.7 L780.7,421.4 L779.2,424.0 L777.7,426.6 L776.0,429.0 L774.2,431.4 L772.4,433.6 L770.4,435.6 L768.4,437.6 L766.3,439.3 L764.2,440.8 L762.1,442.1 L760.0,443.2 L757.9,444.1 L755.8,444.8 L753.8,445.2 L751.9,445.4 L750.0,445.4 L748.2,445.1 L746.5,444.6 L745.0,443.8 L688.9,413.0 L687.5,412.0 L686.2,410.8 L685.0,409.4 L684.1,407.8 L683.2,406.0 L682.6,404.1 L682.2,401.9 L681.9,399.7 Z" fill="#bcbcbc"/>
<g clip-path="url(#bcl40)" stroke="#b2b2b2" stroke-width="1.2">
<line x1="681.8" y1="397.3" x2="737.9" y2="428.1"/>
<line x1="682.4" y1="403.2" x2="738.5" y2="434.0"/>
<line x1="684.2" y1="408.0" x2="740.3" y2="438.9"/>
<line x1="687.1" y1="411.7" x2="743.1" y2="442.5"/>
<line x1="690.9" y1="413.9" x2="747.0" y2="444.7"/>
<line x1="695.5" y1="414.6" x2="751.6" y2="445.4"/>
<line x1="700.6" y1="413.7" x2="756.7" y2="444.5"/>
<line x1="706.0" y1="411.3" x2="762.1" y2="442.1"/>
<line x1="711.4" y1="407.5" x2="767.5" y2="438.3"/>
<line x1="716.6" y1="402.4" x2="772.6" y2="433.3"/>
<line x1="721.2" y1="396.4" x2="777.2" y2="427.3"/>
<line x1="725.0" y1="389.8" x2="781.1" y2="420.6"/>
<line x1="727.9" y1="382.8" x2="784.0" y2="413.7"/>
<line x1="729.7" y1="375.9" x2="785.7" y2="406.7"/>
<line x1="730.3" y1="369.3" x2="786.4" y2="400.1"/>
<line x1="729.7" y1="363.4" x2="785.7" y2="394.2"/>
<line x1="727.9" y1="358.5" x2="784.0" y2="389.4"/>
<line x1="725.0" y1="354.9" x2="781.1" y2="385.7"/>
<line x1="721.2" y1="352.7" x2="777.2" y2="383.5"/>
<line x1="716.6" y1="352.0" x2="772.6" y2="382.8"/>
<line x1="711.4" y1="352.9" x2="767.5" y2="383.7"/>
<line x1="706.0" y1="355.3" x2="762.1" y2="386.1"/>
<line x1="700.6" y1="359.1" x2="756.7" y2="389.9"/>
<line x1="695.5" y1="364.1" x2="751.6" y2="395.0"/>
<line x1="690.9" y1="370.1" x2="747.0" y2="401.0"/>
<line x1="687.1" y1="376.8" x2="743.1" y2="407.6"/>
<line x1="684.2" y1="383.7" x2="740.3" y2="414.6"/>
<line x1="682.4" y1="390.7" x2="738.5" y2="421.5"/>
</g>
</g>
<g id="evaporator">
<g fill="none" stroke="#c4c4c4" stroke-width="2.5">
<path d="M565,363.0 a4,4.5 0 1,0 0,9"/>
<path d="M565,381.5 a4,4.5 0 1,0 0,9"/>
<path d="M565,400.0 a4,4.5 0 1,0 0,9"/>
<path d="M565,418.5 a4,4.5 0 1,0 0,9"/>
<path d="M565,437.0 a4,4.5 0 1,0 0,9"/>
<path d="M565,455.5 a4,4.5 0 1,0 0,9"/>
</g>
<path d="M564,354.7 L589,340.5 L757,431 L730,448 Z" fill="#cfcfcf"/>
<path d="M564,354.7 L730,448 L730,556 L564,464 Z" fill="#a2aeba"/>
<path d="M564,354.7 L571.5,359 L571.5,468 L564,464 Z" fill="#c2c6ca"/>
<g stroke="#b6d0ec" stroke-width="1.5">
<line x1="571.5" y1="366.0" x2="730" y2="455.0"/>
<line x1="571.5" y1="378.3" x2="730" y2="467.3"/>
<line x1="571.5" y1="390.6" x2="730" y2="479.6"/>
<line x1="571.5" y1="402.9" x2="730" y2="491.9"/>
<line x1="571.5" y1="415.2" x2="730" y2="504.2"/>
<line x1="571.5" y1="427.5" x2="730" y2="516.5"/>
<line x1="571.5" y1="439.8" x2="730" y2="528.8"/>
<line x1="571.5" y1="452.1" x2="730" y2="541.1"/>
</g>
<path d="M730,448 L757,431 L757,543 L730,556 Z" fill="#dadada"/>
<g fill="#bcbcbc">
<circle cx="737" cy="462" r="1.8"/>
<circle cx="748" cy="457" r="1.8"/>
<circle cx="737" cy="476" r="1.8"/>
<circle cx="748" cy="471" r="1.8"/>
<circle cx="737" cy="490" r="1.8"/>
<circle cx="748" cy="485" r="1.8"/>
<circle cx="737" cy="504" r="1.8"/>
<circle cx="748" cy="499" r="1.8"/>
<circle cx="737" cy="518" r="1.8"/>
<circle cx="748" cy="513" r="1.8"/>
<circle cx="737" cy="532" r="1.8"/>
<circle cx="748" cy="527" r="1.8"/>
<circle cx="737" cy="546" r="1.8"/>
<circle cx="748" cy="541" r="1.8"/>
</g>
</g>
<g id="drier">
<rect x="372" y="382" width="62" height="120" rx="20" fill="#86cdf3" filter="url(#blur4)"/>
<path d="M379,399 L379,489 A24,6 0 0,0 427,489 L427,399 Z" fill="#24292b"/>
<rect x="400" y="402" width="10" height="90" fill="#6a6f72"/>
<rect x="403" y="402" width="3" height="90" fill="#a9adaf"/>
<rect x="411" y="402" width="16" height="89" fill="#3c4245"/>
<path d="M379,430 A24,6 0 0,0 427,430 L427,435 A24,6 0 0,1 379,435 Z" fill="#131516"/>
<ellipse cx="403" cy="399" rx="24" ry="6" fill="#2e3335"/>
<path d="M393,386 L404,380 L416,386 L416,397 L404,402 L393,397 Z" fill="#1c1f21"/>
<ellipse cx="404" cy="385" rx="4" ry="2.2" fill="#555"/>
<path d="M381,395 L393,390 L394,400 L383,404 Z" fill="#b0b0b0"/>
<path d="M415,386 L423,381 L424,388 L416,391 Z" fill="#b8b8b8"/>
<path d="M390,366 L390,378 A11,4 0 0,0 412,378 L412,366 Z" fill="#ededed"/>
<ellipse cx="401" cy="366" rx="11" ry="4" fill="#f7f7f7"/>
<path d="M395,356 L395,366 A6,2.5 0 0,0 407,366 L407,356 Z" fill="#8c8c8c"/>
<ellipse cx="401" cy="356" rx="6" ry="2.5" fill="#9a9a9a"/>
<rect x="397.5" y="348" width="2.5" height="8" fill="#e9c85a"/>
<rect x="403.5" y="351" width="2.5" height="8" fill="#e9c85a"/>
</g>
<g opacity="0.85"><path d="M426,380 L485,347 Q493,343 493,352 L493,532 Q493,538 499,541 L668,639 Q683,647 683,632 L683,612" fill="none" stroke="#f4ac70" stroke-width="6.5" stroke-linecap="round" stroke-linejoin="round"/><path d="M426,380 L485,347 Q493,343 493,352 L493,532 Q493,538 499,541 L668,639 Q683,647 683,632 L683,612" fill="none" stroke="#fbd9bb" stroke-width="1.6" stroke-dasharray="0.1 8" stroke-linecap="round" opacity="0.7"/></g>
<g opacity="0.8"><path d="M745,449 L754,449 Q762,451 762,462 Q762,470 754,474 L648,528 Q640,531 632,526 L604,502 Q597,498 590,502 L574,511 Q568,515 568,522 L568,552" fill="none" stroke="#6aa6dc" stroke-width="6.5" stroke-linecap="round" stroke-linejoin="round"/><path d="M745,449 L754,449 Q762,451 762,462 Q762,470 754,474 L648,528 Q640,531 632,526 L604,502 Q597,498 590,502 L574,511 Q568,515 568,522 L568,552" fill="none" stroke="#fff" stroke-width="1.6" stroke-dasharray="0.1 8" stroke-linecap="round" opacity="0.7"/></g>
<g stroke="#d9a888" stroke-width="2.5" fill="none"><ellipse cx="606" cy="505.0" rx="2.2" ry="5.5" transform="rotate(-30 606 505.0)"/><ellipse cx="611" cy="508.5" rx="2.2" ry="5.5" transform="rotate(-30 611 508.5)"/><ellipse cx="616" cy="512.0" rx="2.2" ry="5.5" transform="rotate(-30 616 512.0)"/><ellipse cx="621" cy="515.5" rx="2.2" ry="5.5" transform="rotate(-30 621 515.5)"/><ellipse cx="626" cy="519.0" rx="2.2" ry="5.5" transform="rotate(-30 626 519.0)"/><ellipse cx="631" cy="522.5" rx="2.2" ry="5.5" transform="rotate(-30 631 522.5)"/><ellipse cx="636" cy="526.0" rx="2.2" ry="5.5" transform="rotate(-30 636 526.0)"/></g>
<path d="M471,532 L471,566 Q471,574 462,577 L436,584" fill="none" stroke="#989898" stroke-width="17" stroke-linejoin="round"/>
<ellipse cx="470.5" cy="530" rx="14.5" ry="8.5" fill="#939393"/><ellipse cx="470.5" cy="529" rx="10" ry="5" fill="#888"/>
<path d="M481,538 L514,589" stroke="#9c9c9c" stroke-width="12"/>
<path d="M448,582 L478,628" stroke="#a0a0a0" stroke-width="11"/>
<path d="M514.7,580.6 L547.5,565 L596,554 L606,563.4 L606,627.5 L597.5,635.3 L553.8,663.4 L544.4,658.8 L528.8,615 Z" fill="#addcb2"/>
<path d="M553,606 L604,585 L604,594 L556,615 Z" fill="#d8efd9"/>
<path d="M547.5,555.6 L560,549.4 L596,557.2 L596,571.3 L585,576 L547.5,568 Z" fill="#d3d7d7"/>
<ellipse cx="574" cy="561" rx="9" ry="4" fill="#c4c8c8"/>
<rect x="562" y="622" width="8" height="16" fill="#e8e0d8"/><rect x="562" y="635" width="8" height="3" fill="#3a2a20"/>
<path d="M472.4,620.8 L472.5,618.0 L472.8,615.4 L473.3,612.9 L474.1,610.6 L475.0,608.5 L476.1,606.7 L477.4,605.0 L478.9,603.7 L480.6,602.5 L499.1,592.5 L500.9,591.7 L502.9,591.1 L504.9,590.7 L507.1,590.7 L509.4,590.9 L511.7,591.4 L514.1,592.2 L516.5,593.2 L519.0,594.5 L521.5,596.0 L523.9,597.8 L526.3,599.8 L528.6,602.0 L530.9,604.4 L533.1,607.0 L535.1,609.7 L537.1,612.5 L538.9,615.5 L540.6,618.6 L542.1,621.7 L543.4,624.8 L544.5,628.0 L545.5,631.1 L546.2,634.3 L546.7,637.4 L547.0,640.4 L547.1,643.2 L547.0,646.0 L546.7,648.6 L546.2,651.1 L545.5,653.4 L544.5,655.5 L543.4,657.3 L542.1,659.0 L540.6,660.3 L538.9,661.5 L520.4,671.5 L518.6,672.3 L516.6,672.9 L514.6,673.3 L512.4,673.3 L510.1,673.1 L507.8,672.6 L505.4,671.8 L502.9,670.8 L500.5,669.5 L498.1,668.0 L495.6,666.2 L493.2,664.2 L490.9,662.0 L488.6,659.6 L486.4,657.0 L484.4,654.3 L482.4,651.5 L480.6,648.5 L478.9,645.4 L477.4,642.3 L476.1,639.2 L475.0,636.0 L474.1,632.9 L473.3,629.7 L472.8,626.6 L472.5,623.6 Z" fill="#9a9a9a"/>
<path d="M528.6,653.2 L528.5,656.0 L528.2,658.6 L527.7,661.1 L526.9,663.4 L526.0,665.5 L524.9,667.3 L523.6,669.0 L522.1,670.3 L520.4,671.5 L518.6,672.3 L516.6,672.9 L514.6,673.3 L512.4,673.3 L510.1,673.1 L507.8,672.6 L505.4,671.8 L503.0,670.8 L500.5,669.5 L498.0,668.0 L495.6,666.2 L493.2,664.2 L490.9,662.0 L488.6,659.6 L486.4,657.0 L484.4,654.3 L482.4,651.5 L480.6,648.5 L478.9,645.4 L477.4,642.3 L476.1,639.2 L475.0,636.0 L474.1,632.8 L473.3,629.7 L472.8,626.6 L472.5,623.6 L472.4,620.8 L472.5,618.0 L472.8,615.4 L473.3,612.9 L474.1,610.6 L475.0,608.5 L476.1,606.7 L477.4,605.0 L478.9,603.7 L480.6,602.5 L482.4,601.7 L484.4,601.1 L486.4,600.7 L488.6,600.7 L490.9,600.9 L493.2,601.4 L495.6,602.2 L498.0,603.2 L500.5,604.5 L503.0,606.0 L505.4,607.8 L507.8,609.8 L510.1,612.0 L512.4,614.4 L514.6,617.0 L516.6,619.7 L518.6,622.5 L520.4,625.5 L522.1,628.6 L523.6,631.7 L524.9,634.8 L526.0,638.0 L526.9,641.2 L527.7,644.3 L528.2,647.4 L528.5,650.4 Z" fill="#a3a3a3"/>
<path d="M523.0,650.0 L522.9,652.2 L522.7,654.3 L522.2,656.3 L521.7,658.1 L520.9,659.8 L520.0,661.3 L518.9,662.6 L517.7,663.7 L516.4,664.6 L515.0,665.3 L513.4,665.8 L511.8,666.0 L510.0,666.1 L508.2,665.9 L506.3,665.5 L504.4,664.9 L502.5,664.0 L500.5,663.0 L498.5,661.8 L496.6,660.3 L494.7,658.7 L492.8,657.0 L491.0,655.1 L489.2,653.0 L487.6,650.8 L486.0,648.6 L484.6,646.2 L483.3,643.8 L482.1,641.3 L481.0,638.7 L480.1,636.2 L479.3,633.7 L478.8,631.2 L478.3,628.7 L478.1,626.3 L478.0,624.0 L478.1,621.8 L478.3,619.7 L478.8,617.7 L479.3,615.9 L480.1,614.2 L481.0,612.7 L482.1,611.4 L483.3,610.3 L484.6,609.4 L486.0,608.7 L487.6,608.2 L489.2,608.0 L491.0,607.9 L492.8,608.1 L494.7,608.5 L496.6,609.1 L498.5,610.0 L500.5,611.0 L502.5,612.2 L504.4,613.7 L506.3,615.3 L508.2,617.0 L510.0,618.9 L511.8,621.0 L513.4,623.2 L515.0,625.4 L516.4,627.8 L517.7,630.2 L518.9,632.7 L520.0,635.3 L520.9,637.8 L521.7,640.3 L522.2,642.8 L522.7,645.3 L522.9,647.7 Z" fill="#a9a9a9"/>
<path d="M488,612 L512,660" stroke="#b3b3b3" stroke-width="2"/>
<ellipse cx="540" cy="598" rx="3.5" ry="3" fill="#f0f0f0" stroke="#bdbdbd"/>
<ellipse cx="597" cy="568" rx="3.5" ry="3" fill="#f0f0f0" stroke="#bdbdbd"/>
<ellipse cx="603" cy="632" rx="3.5" ry="3" fill="#f0f0f0" stroke="#bdbdbd"/>
<ellipse cx="551" cy="660" rx="3.5" ry="3" fill="#f0f0f0" stroke="#bdbdbd"/>
<g id="valve">
<path d="M678,584 L678,556 Q678,551 674,549 L640,518" fill="none" stroke="#ecc8b0" stroke-width="2.5"/>
<path d="M668,598 L668,628 Q678,636 690,628 L690,598 Z" fill="#ecdfc6"/>
<ellipse cx="678" cy="592" rx="15.5" ry="8" fill="#d4d4d4"/>
<ellipse cx="678" cy="590" rx="15" ry="6.5" fill="#ededed"/>
<path d="M692,588 L700,584 L702,594 L694,598 Z" fill="#ecdfc6"/>
</g>
<g opacity="0.8"><path d="M700,590 L754,560 Q761,556 761,549 L761,546 Q761,538 753,538 L745,538" fill="none" stroke="#8ccae6" stroke-width="6.5" stroke-linecap="round" stroke-linejoin="round"/><path d="M700,590 L754,560 Q761,556 761,549 L761,546 Q761,538 753,538 L745,538" fill="none" stroke="#fff" stroke-width="1.6" stroke-dasharray="0.1 8" stroke-linecap="round" opacity="0.7"/></g>
<g opacity="1"><path d="M383,398 L325,431 Q318,435 318,443 L318,466 Q318,473 324,476 L424,534 Q430,538 430,545 L430,736 Q430,744 422,740 L404,731" fill="none" stroke="#f0871f" stroke-width="7" stroke-linecap="round" stroke-linejoin="round"/><path d="M383,398 L325,431 Q318,435 318,443 L318,466 Q318,473 324,476 L424,534 Q430,538 430,545 L430,736 Q430,744 422,740 L404,731" fill="none" stroke="#fcd3a8" stroke-width="1.6" stroke-dasharray="0.1 8" stroke-linecap="round" opacity="0.7"/></g>
<g opacity="1"><path d="M575,558 L575,530 Q575,520 566,525 L444,595 Q438,598 432,595 L411,584" fill="none" stroke="#c8101e" stroke-width="6.5" stroke-linecap="round" stroke-linejoin="round"/><path d="M575,558 L575,530 Q575,520 566,525 L444,595 Q438,598 432,595 L411,584" fill="none" stroke="#f3a0a0" stroke-width="1.6" stroke-dasharray="0.1 8" stroke-linecap="round" opacity="0.7"/></g>
<text transform="translate(323,428) rotate(-30)" font-size="12" font-weight="bold" fill="#f0871f" stroke="#f0871f" stroke-width="0.45">LIQUID</text>
<path d="M357,403 L368,397" stroke="#f0871f" stroke-width="2.5"/><path d="M364,393 L372,395 L368,401 Z" fill="#f0871f"/>
<text transform="translate(485,487) rotate(-90)" font-size="12" font-weight="bold" fill="#f3a868" stroke="#f3a868" stroke-width="0.45">LIQUID</text>
<path d="M481,490 L481,500" stroke="#f3a868" stroke-width="2.5"/><path d="M477,498 L485,498 L481,504 Z" fill="#f3a868"/>
<text transform="translate(467,574) rotate(-30)" font-size="13.5" font-weight="bold" fill="#c8101e" stroke="#c8101e" stroke-width="0.45">GAS</text>
<path d="M465,574 L456,579" stroke="#c8101e" stroke-width="2.5"/><path d="M450,582 L456,574 L459,582 Z" fill="#c8101e"/>
<path d="M421,604 L412,599" stroke="#c8101e" stroke-width="2.6"/><path d="M406.5,595.5 L415.5,594.5 L411.5,602 Z" fill="#c8101e"/>
<text transform="translate(573,504) rotate(-30)" font-size="13" font-weight="bold" fill="#2a73b8" stroke="#2a73b8" stroke-width="0.45">GAS</text>
<path d="M572,505 L562,510" stroke="#5d9dd6" stroke-width="2.5"/><path d="M558,512 L564,505 L566,513 Z" fill="#5d9dd6"/>
<text transform="translate(720,598) rotate(-30)" font-size="12" font-weight="bold" fill="#6bbfe0" stroke="#6bbfe0" stroke-width="0.45">LIQUID</text>
<path d="M756,573 L765,568" stroke="#84c6e4" stroke-width="2.5"/><path d="M762,564 L769,566 L765,572 Z" fill="#84c6e4"/>
<text transform="translate(618,632) rotate(30)" font-size="12" font-weight="bold" fill="#f0871f" stroke="#f0871f" stroke-width="0.45">LIQUID</text>
<path d="M656,650 L665,654" stroke="#f3a868" stroke-width="2.5"/><path d="M662,650 L669,656 L661,658 Z" fill="#f3a868"/>
<path d="M405,746 L415,751" stroke="#f0871f" stroke-width="2.5"/><path d="M412,747 L419,753 L411,755 Z" fill="#f0871f"/>
<path d="M53,719 Q110,690 147,675 L124,663 L204,635 L208,708 L179,694 Q150,725 103,746 Z" fill="url(#airg)"/>
<text transform="translate(158,664) rotate(27)" font-size="23" font-weight="bold" fill="#e9eef5" stroke="#e9eef5" stroke-width="0.9" letter-spacing="1">AIR</text>
<g fill="#9dbfe3">
<path d="M742,337 Q765,325 780,315 L770,313 L798,307 L805,332 L795,325 Q782,340 760,348 Z"/>
<path d="M790,366 Q810,356 826,345 L820,343 L848,335 L853,361 L843,354 Q828,368 809,376 Z"/>
</g>
<g opacity="0.25" fill="#9cc8d4">
<path fill-rule="evenodd" mask="url(#qgap)" d="M105,392 L200,392 Q226,392 222,417 L203,544 Q199,569 174,569 L75,569 Q51,569 57,544 L78,417 Q82,392 105,392 Z M112,417 L192,417 Q202,417 200,428 L184,532 Q182,543 170,543 L94,543 Q82,543 84,532 L100,428 Q102,417 112,417 Z"/>
<path d="M107,518.5 L141,518.5 L170,569 L127,569 Z"/>
<g clip-path="url(#wmclip)"><text transform="translate(212,567) scale(0.63,1)" font-size="240" font-weight="bold" font-style="italic">ualit</text>
<text transform="translate(522,567) scale(0.63,1)" font-size="240" font-weight="bold" font-style="italic">y</text></g>
<path fill-rule="evenodd" d="M606,568 L680,410 Q690,392 712,392 L800,392 Q826,392 821,418 L789,568 L763,568 L771,530 L680,530 L662,568 Z M690,506 L776,506 L795,418 L724,418 Q714,418 708,430 Z"/>
<path d="M836,442 L862,442 L838,568 L812,568 Z"/>
<path d="M842,406 L869,406 L866,418 L840,418 Z"/>
<path d="M860,568 L880,470 Q888,442 920,442 L973,442 L969,466 L915,466 Q900,466 896,484 L886,568 Z"/>
</g>
<g fill="#9cc8d4" opacity="0.22"><path d="M66.0,606.5 L68.5,613.6 L76.0,613.8 L70.0,618.3 L72.2,625.5 L66.0,621.2 L59.8,625.5 L62.0,618.3 L56.0,613.8 L63.5,613.6 Z"/><path d="M117.0,606.5 L119.5,613.6 L127.0,613.8 L121.0,618.3 L123.2,625.5 L117.0,621.2 L110.8,625.5 L113.0,618.3 L107.0,613.8 L114.5,613.6 Z"/><path d="M168.0,606.5 L170.5,613.6 L178.0,613.8 L172.0,618.3 L174.2,625.5 L168.0,621.2 L161.8,625.5 L164.0,618.3 L158.0,613.8 L165.5,613.6 Z"/><path d="M845.0,606.5 L847.5,613.6 L855.0,613.8 L849.0,618.3 L851.2,625.5 L845.0,621.2 L838.8,625.5 L841.0,618.3 L835.0,613.8 L842.5,613.6 Z"/><path d="M896.0,606.5 L898.5,613.6 L906.0,613.8 L900.0,618.3 L902.2,625.5 L896.0,621.2 L889.8,625.5 L892.0,618.3 L886.0,613.8 L893.5,613.6 Z"/><path d="M947.0,606.5 L949.5,613.6 L957.0,613.8 L951.0,618.3 L953.2,625.5 L947.0,621.2 L940.8,625.5 L943.0,618.3 L937.0,613.8 L944.5,613.6 Z"/></g>
<text x="268 329 380 433 516 567 619 666 723" y="632" font-size="41" fill="#9cc8d4" opacity="0.22">AUTOPARTS</text>
<text x="255.6" y="332.8" font-size="15.8" fill="#b3b3b3" textLength="145.4" lengthAdjust="spacingAndGlyphs">PRESSURE SWITCH</text><path d="M254.6,336.5 L402,336.5 M402,336.5 L402,350" fill="none" stroke="#c8c8c8" stroke-width="1"/>
<text x="108.8" y="361" font-size="15.8" fill="#b3b3b3" textLength="77.6" lengthAdjust="spacingAndGlyphs">RADIATOR</text><path d="M108,365.5 L190.3,365.5 M190.3,365.5 L190.3,430" fill="none" stroke="#c8c8c8" stroke-width="1"/>
<text x="248.8" y="376.8" font-size="15.8" fill="#5b5b5b" textLength="124" lengthAdjust="spacingAndGlyphs">RECEIVER DRIER</text><path d="M248,380.5 L381,380.5 M381,380.5 L381,392" fill="none" stroke="#8a8a8a" stroke-width="1"/>
<text x="483.2" y="320.5" font-size="15.8" fill="#b3b3b3" textLength="102" lengthAdjust="spacingAndGlyphs">EVAPORATOR</text><path d="M483,324.5 L590,324.5 M590,324.5 L590,340" fill="none" stroke="#c8c8c8" stroke-width="1"/>
<text x="831.7" y="401.5" font-size="15.8" fill="#b3b3b3" textLength="128" lengthAdjust="spacingAndGlyphs">BLOWER MOTOR</text><path d="M830.8,405.5 L959.6,405.5 M831,405.5 L831,446" fill="none" stroke="#c8c8c8" stroke-width="1"/>
<text x="720.3" y="619.8" font-size="15.8" fill="#b3b3b3" textLength="139" lengthAdjust="spacingAndGlyphs">EXPANSION VALVE</text><path d="M688,623.5 L859.4,623.5" fill="none" stroke="#c8c8c8" stroke-width="1"/>
<text x="481.6" y="696.5" font-size="15.8" fill="#b3b3b3" textLength="109" lengthAdjust="spacingAndGlyphs">COMPRESSOR</text><path d="M480.8,699.5 L598.7,699.5 M598.7,699.5 L598.7,635.5" fill="none" stroke="#c8c8c8" stroke-width="1"/>
<text x="253.9" y="758.3" font-size="15.8" fill="#b3b3b3" textLength="29.3" lengthAdjust="spacingAndGlyphs">FAN</text><path d="M253,761 L302.5,761 M302.5,761 L302.5,700" fill="none" stroke="#c8c8c8" stroke-width="1"/>
<text x="252.8" y="807.8" font-size="15.8" fill="#b3b3b3" textLength="98" lengthAdjust="spacingAndGlyphs">CONDENSER</text><path d="M252,811 L364,811 M364,811 L364,735" fill="none" stroke="#c8c8c8" stroke-width="1"/>
<text x="807.6" y="300.4" font-size="22" font-weight="bold" fill="#3b80c3" stroke="#3b80c3" stroke-width="0.9" textLength="122" lengthAdjust="spacingAndGlyphs">COLD AIR</text>
<rect x="708.2" y="661.1" width="17.2" height="12.3" fill="#c8101e"/>
<text x="730.9" y="672.9" font-size="14" fill="#2b2424" textLength="147.2" lengthAdjust="spacingAndGlyphs" xml:space="preserve">High pressure line - gas</text>
<rect x="708.2" y="686.1" width="17.2" height="12.3" fill="#f08a24"/>
<text x="730.9" y="697.9" font-size="14" fill="#2b2424" textLength="161.5" lengthAdjust="spacingAndGlyphs" xml:space="preserve">High pressure line - liquid</text>
<rect x="708.2" y="712.1" width="17.2" height="12.3" fill="#73c3db"/>
<text x="730.9" y="723.8" font-size="14" fill="#2b2424" textLength="157.6" lengthAdjust="spacingAndGlyphs" xml:space="preserve">Low pressure line - liquid</text>
<rect x="708.2" y="737.3" width="17.2" height="12.3" fill="#2d72b5"/>
<text x="730.9" y="748.6" font-size="14" fill="#2b2424" textLength="146.4" lengthAdjust="spacingAndGlyphs" xml:space="preserve">Low pressure line -  gas</text>
</svg>
</body></html>
